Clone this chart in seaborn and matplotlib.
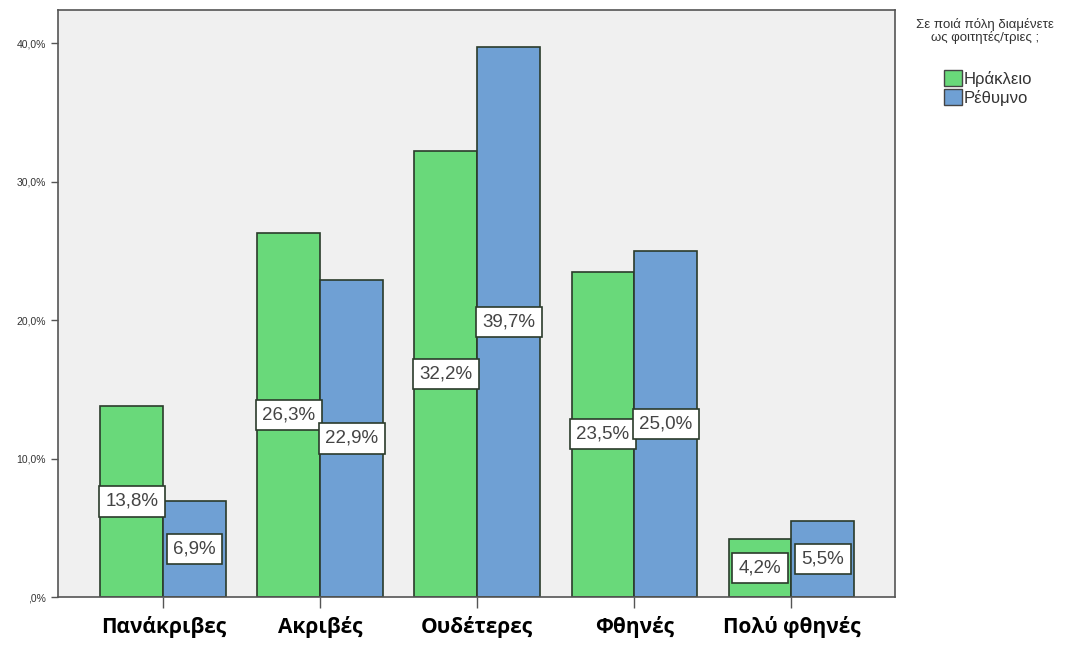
import pandas as pd
import matplotlib.pyplot as plt
import seaborn as sns
from matplotlib.patches import Patch

# Δεδομένα
categories = ["Πανάκριβες", "Ακριβές", "Ουδέτερες", "Φθηνές", "Πολύ φθηνές"]
heraklion = [13.8, 26.3, 32.2, 23.5, 4.2]
rethymno = [6.9, 22.9, 39.7, 25.0, 5.5]
groups = ["Ηράκλειο", "Ρέθυμνο"]
yticks = [0, 10, 20, 30, 40]
ytick_labels = [",0%", "10,0%", "20,0%", "30,0%", "40,0%"]
legend_title = "Σε ποιά πόλη διαμένετε\nως φοιτητές/τριες ;"

colors = {"Ηράκλειο": "#69d97a", "Ρέθυμνο": "#6fa0d4"}

df = pd.DataFrame({
    "category": categories * 2,
    "city": [groups[0]] * len(categories) + [groups[1]] * len(categories),
    "value": heraklion + rethymno,
})

sns.set_style("white")
plt.rcParams["font.family"] = ["Liberation Sans", "DejaVu Sans"]

fig = plt.figure(figsize=(10.8, 6.49), dpi=100)
ax = fig.add_axes([0.0537, 0.0801, 0.775, 0.9045])
ax.set_facecolor("#f0f0f0")

sns.barplot(data=df, x="category", y="value", hue="city", order=categories,
            hue_order=groups, palette=colors, width=0.8, edgecolor="#2b3b2b",
            linewidth=1.2, saturation=1, legend=False, ax=ax)

for cont in ax.containers:
    ax.bar_label(cont, labels=[f"{v:.1f}%".replace(".", ",") for v in cont.datavalues],
                 label_type="center", fontsize=13.5, color="#444444",
                 bbox=dict(boxstyle="square,pad=0.35", facecolor="white",
                           edgecolor="#2b3b2b", linewidth=1.2))

ax.set_xlim(-0.67, 4.66)
ax.set_ylim(0, 42.4)
ax.set_yticks(yticks)
ax.set_yticklabels(ytick_labels, fontsize=7.5, color="#333333")
ax.tick_params(axis="y", direction="out", length=5, width=1, color="#555555", left=True)
ax.tick_params(axis="x", direction="out", length=8, width=1, color="#555555", bottom=True, pad=6)
ax.set_xticks(range(len(categories)))
ax.set_xticklabels(categories, fontsize=15, fontweight="bold", color="black",
                   family=["Open Sans", "DejaVu Sans"])
ax.set_xlabel("")
ax.set_ylabel("")
for side in ["left", "bottom", "top", "right"]:
    ax.spines[side].set_color("#555555")
    ax.spines[side].set_linewidth(1.2)

# Υπόμνημα: τίτλος χωριστά, καρτέλες από κάτω
fig.text(0.912, 0.972, legend_title, ha="center", va="top", fontsize=9.5,
         color="#333333", multialignment="center", linespacing=1.0)
handles = [Patch(facecolor=colors[g], edgecolor="#444444", linewidth=1) for g in groups]
leg = fig.legend(handles, groups, loc="upper left", bbox_to_anchor=(0.866, 0.905),
                 frameon=False, fontsize=12, handlelength=1.1, handleheight=1.1,
                 handletextpad=0.1, labelspacing=0.15, borderpad=0.0)
for t in leg.get_texts():
    t.set_color("#333333")

fig.savefig("out.png", dpi=100)
